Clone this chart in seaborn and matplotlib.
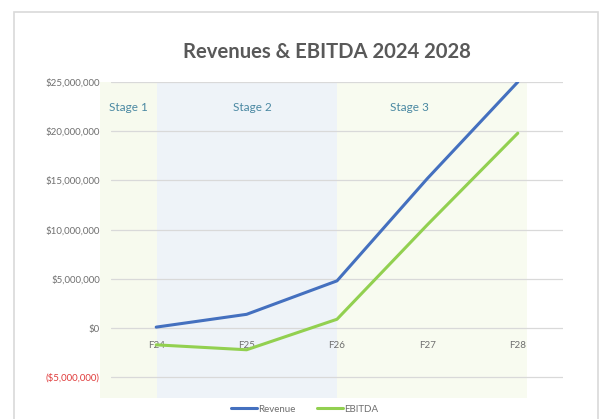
import pandas as pd
import matplotlib.pyplot as plt
import seaborn as sns
from matplotlib.patches import Rectangle
from matplotlib.ticker import FuncFormatter

# Data
years = ['F24', 'F25', 'F26', 'F27', 'F28']
revenue = [100_000, 1_400_000, 4_800_000, 15_200_000, 25_000_000]
ebitda = [-1_700_000, -2_200_000, 900_000, 10_500_000, 19_800_000]

stage_names = ['Stage 1', 'Stage 2', 'Stage 3']
stage_spans = [(-0.62, 0.01), (0.01, 2.0), (2.0, 4.1)]
stage_label_x = [-0.31, 1.06, 2.8]
stage_colors = ['#f7faee', '#eef3f8', '#f8fbf0']

sns.set_theme(style='white')
plt.rcParams['font.family'] = ['Lato', 'DejaVu Sans']

df = pd.DataFrame({
    'idx': list(range(len(years))) * 2,
    'value': revenue + ebitda,
    'series': ['Revenue'] * len(years) + ['EBITDA'] * len(years),
})

fig = plt.figure(figsize=(6.04, 4.19), dpi=100)
fig.add_artist(Rectangle((14 / 604, -0.01), 584 / 604, 1.01 - 12 / 419,
                         transform=fig.transFigure, fill=False,
                         edgecolor='#d9d9d9', linewidth=1.2))
ax = fig.add_axes([111 / 604, 1 - 398 / 419, 452 / 604, 316 / 419])

# stage backgrounds
for (x0, x1), c in zip(stage_spans, stage_colors):
    ax.axvspan(x0, x1, color=c, zorder=0.2, clip_on=False, lw=0)

sns.lineplot(data=df, x='idx', y='value', hue='series',
             palette={'Revenue': '#4470bf', 'EBITDA': '#92d050'},
             linewidth=2.2, ax=ax, zorder=3)

for name, lx in zip(stage_names, stage_label_x):
    ax.text(lx, 22_400_000, name, ha='center', va='center',
            fontsize=8.5, color='#4a88a2', zorder=4)

ax.set_xlim(-0.5, 4.5)
ax.set_ylim(-7_100_000, 25_000_000)
ax.set_yticks(range(-5_000_000, 25_000_001, 5_000_000))
ax.yaxis.set_major_formatter(FuncFormatter(
    lambda v, p: f'(${abs(v):,.0f})' if v < 0 else f'${v:,.0f}'))
ax.set_xticks(range(len(years)))
ax.set_xticklabels(years)

ax.set_axisbelow(True)
ax.grid(axis='y', color='#d9d9d9', linewidth=0.9)
ax.grid(axis='x', visible=False)
for s in ['top', 'right', 'left']:
    ax.spines[s].set_visible(False)
ax.spines['bottom'].set_position(('data', 0))
ax.spines['bottom'].set_visible(False)
ax.tick_params(axis='x', length=0, pad=9, labelsize=7, labelcolor='#6f6f6f')
ax.tick_params(axis='y', length=0, pad=8, labelsize=7, labelcolor='#6f6f6f')
fig.canvas.draw()
for lbl in ax.get_yticklabels():
    if lbl.get_text().startswith('('):
        lbl.set_color('#e03c3c')
ax.set_xlabel('')
ax.set_ylabel('')

fig.text(327 / 604, 1 - 52 / 419, 'Revenues & EBITDA 2024 2028', ha='center',
         va='center', fontsize=14.6, fontweight='bold', color='#595959')

handles, labels = ax.get_legend_handles_labels()
ax.legend(handles, labels, loc='center', bbox_to_anchor=(0.505, 1 - 409 / 419),
          bbox_transform=fig.transFigure, ncol=2, frameon=False, fontsize=7,
          handlelength=2.6, handletextpad=0.2, columnspacing=2.2,
          labelcolor='#6f6f6f')

plt.savefig('out.png', dpi=100, facecolor='white')
